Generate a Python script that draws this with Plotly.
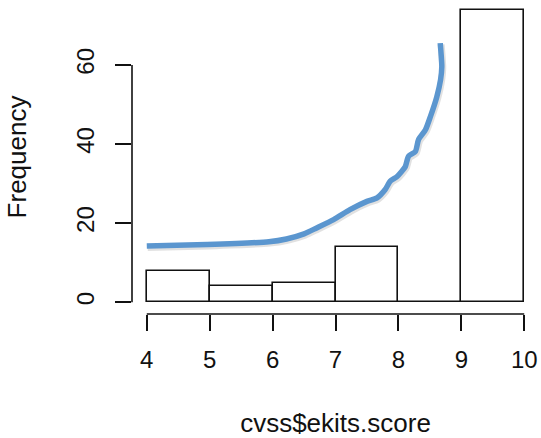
import plotly.graph_objects as go

# Histogram data (bins of width 1 from 4 to 10)
bin_left = [4, 5, 6, 7, 8, 9]
counts = [8, 4, 5, 14, 0, 74]

# Overlaid blue curve
curve_x = [4.0, 4.96, 5.94, 6.22, 6.5, 6.70, 6.97, 7.23, 7.50, 7.66, 7.79, 7.87, 7.98, 8.11, 8.16,
           8.27, 8.32, 8.43, 8.51, 8.61, 8.67, 8.69, 8.68, 8.665]
curve_y = [14.2, 14.6, 15.3, 16.0, 17.3, 18.8, 20.9, 23.4, 25.5, 26.4, 28.5, 30.6, 31.8, 34.3, 36.9,
           38.1, 41.1, 43.6, 47.0, 51.9, 56.2, 59.5, 62.5, 65.5]

x_ticks = [4, 5, 6, 7, 8, 9, 10]
y_ticks = [0, 20, 40, 60]

FONT = "Liberation Sans, Arial, Helvetica, sans-serif"

fig = go.Figure()
fig.add_trace(go.Bar(
    x=[b + 0.5 for b in bin_left], y=counts, width=1,
    marker=dict(color="white", line=dict(color="#111111", width=1.6)),
    hoverinfo="skip", showlegend=False,
))
fig.add_trace(go.Scatter(
    x=[v + 0.015 for v in curve_x], y=[v - 0.35 for v in curve_y], mode="lines",
    line=dict(color="rgba(120,120,120,0.22)", width=7, shape="spline", smoothing=0.6),
    hoverinfo="skip", showlegend=False,
))
fig.add_trace(go.Scatter(
    x=curve_x, y=curve_y, mode="lines",
    line=dict(color="#5b96cf", width=5.5, shape="spline", smoothing=0.6),
    hoverinfo="skip", showlegend=False,
))

# R-style detached axis lines
fig.add_shape(type="line", xref="x", yref="paper", x0=x_ticks[0], x1=x_ticks[-1], y0=0, y1=0,
              line=dict(color="#111111", width=1.6))
fig.add_shape(type="line", xref="paper", yref="y", x0=0, x1=0, y0=y_ticks[0], y1=y_ticks[-1],
              line=dict(color="#111111", width=1.6))

fig.update_layout(
    width=541, height=438,
    margin=dict(l=132, r=2, t=0, b=124),
    plot_bgcolor="white", paper_bgcolor="white",
    font=dict(family=FONT, color="#111111", size=24),
    bargap=0,
    xaxis=dict(
        range=[3.765, 10.235], tickmode="array", tickvals=x_ticks,
        ticks="outside", ticklen=16, tickwidth=1.6, tickcolor="#111111",
        showgrid=False, zeroline=False, showline=False,
        tickfont=dict(size=24), ticklabelstandoff=8,
        title=dict(text="cvss$ekits.score", font=dict(size=26), standoff=44),
    ),
    yaxis=dict(
        range=[-2.96, 76.4], tickmode="array", tickvals=y_ticks,
        ticks="outside", ticklen=16, tickwidth=1.6, tickcolor="#111111",
        showgrid=False, zeroline=False, showline=False,
        tickangle=-90, tickfont=dict(size=24), ticklabelstandoff=11,
        title=dict(text="Frequency", font=dict(size=26), standoff=38),
    ),
)

fig.write_html("out.html")
